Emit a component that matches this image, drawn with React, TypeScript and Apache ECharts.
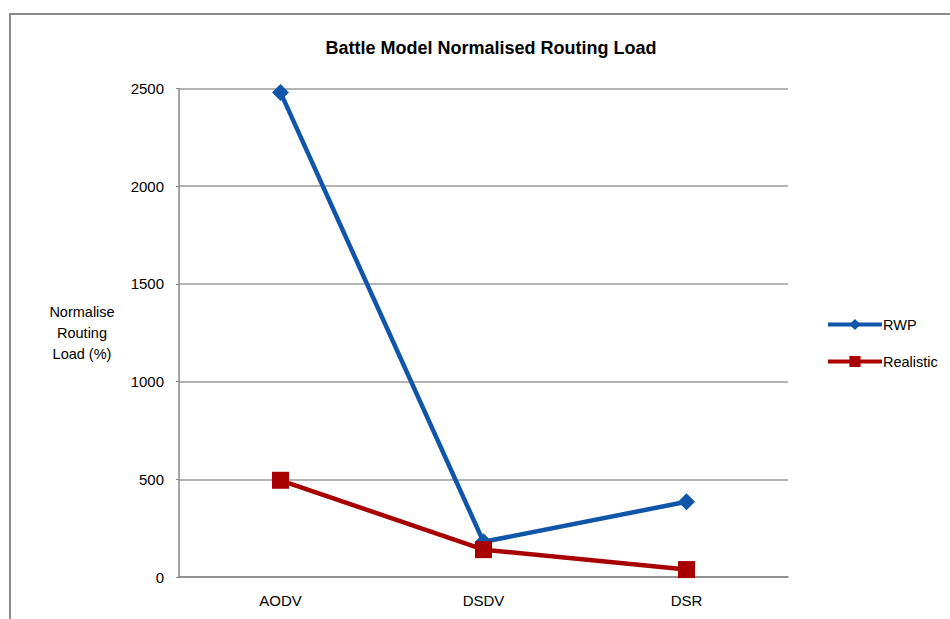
import React, { useEffect, useRef } from "react";
import * as echarts from "echarts";

const categories = ["AODV", "DSDV", "DSR"];
const rwp = [2480, 180, 385];
const realistic = [495, 140, 38];
const seriesNames = ["RWP", "Realistic"];
const titleText = "Battle Model Normalised Routing Load";
const yAxisName = "Normalise\nRouting\nLoad (%)";

export default function App() {
  const ref = useRef<HTMLDivElement>(null);
  useEffect(() => {
    document.body.style.margin = "0";
    const chart = echarts.init(ref.current!, null, { renderer: "svg" });
    const font = "Liberation Sans, Arial, sans-serif";
    chart.setOption({
      animation: false,
      backgroundColor: "#ffffff",
      textStyle: { fontFamily: font, color: "#000" },
      title: {
        text: titleText,
        left: 486,
        top: 34,
        textAlign: "center",
        textStyle: { fontSize: 18, fontWeight: "bold", color: "#000", fontFamily: font },
      },
      graphic: [
        {
          type: "rect",
          shape: { x: 10, y: 14, width: 960, height: 640 },
          style: { fill: "none", stroke: "#8a8a8a", lineWidth: 2 },
          silent: true,
        },
      ],
      legend: {
        orient: "vertical",
        left: 826,
        top: 317,
        padding: 0,
        itemWidth: 54,
        itemHeight: 14,
        itemGap: 22,
        lineStyle: { width: 4 },
        textStyle: { fontSize: 14.5, color: "#000", fontFamily: font, padding: [0, 0, 0, -4] },
        data: seriesNames,
      },
      grid: { left: 179, right: 162, top: 88.5, bottom: 42 },
      xAxis: {
        type: "category",
        data: categories,
        boundaryGap: true,
        axisLine: { show: true, lineStyle: { color: "#868686", width: 1.5 } },
        axisTick: { show: false },
        axisLabel: { fontSize: 15, color: "#000", margin: 16, fontFamily: font },
        splitLine: { show: false },
      },
      yAxis: {
        type: "value",
        min: 0,
        max: 2500,
        interval: 500,
        name: yAxisName,
        nameLocation: "middle",
        nameRotate: 0,
        nameGap: 97,
        nameTextStyle: { fontSize: 14.5, color: "#000", align: "center", lineHeight: 21, fontFamily: font },
        axisLine: { show: true, lineStyle: { color: "#868686", width: 1.5 } },
        axisTick: { show: true, length: 3, lineStyle: { color: "#868686" } },
        axisLabel: {
          fontSize: 15,
          color: "#000",
          margin: 15,
          fontFamily: font,
          formatter: (v: number) => String(v),
        },
        splitLine: { show: true, lineStyle: { color: "#9a9a9a", width: 1.5 } },
      },
      series: [
        {
          name: seriesNames[0],
          type: "line",
          data: rwp,
          symbol: "diamond",
          symbolSize: 17,
          lineStyle: { color: "#0F55AA", width: 4.5 },
          itemStyle: { color: "#0F55AA" },
          z: 2,
        },
        {
          name: seriesNames[1],
          type: "line",
          data: realistic,
          symbol: "rect",
          symbolSize: 17,
          lineStyle: { color: "#A80000", width: 4.5 },
          itemStyle: { color: "#A80000" },
          z: 3,
        },
      ],
    });
    return () => chart.dispose();
  }, []);
  return <div ref={ref} style={{ position: "absolute", left: 0, top: 0, width: 950, height: 619 }} />;
}
